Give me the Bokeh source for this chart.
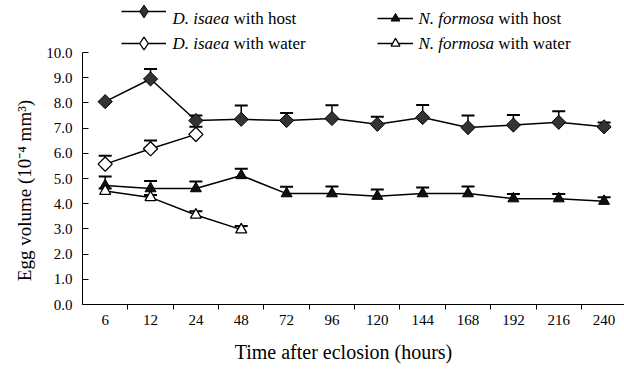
import math
from bokeh.plotting import figure
from bokeh.models import (ColumnDataSource, Range1d, FixedTicker, Whisker, TeeHead,
                          Legend, LegendItem, Label, PrintfTickFormatter)
from bokeh.embed import file_html
from bokeh.resources import INLINE

# ---- data ----
hours = ["6", "12", "24", "48", "72", "96", "120", "144", "168", "192", "216", "240"]
disaea_host = [8.05, 8.95, 7.30, 7.35, 7.30, 7.38, 7.15, 7.42, 7.02, 7.12, 7.23, 7.05]
disaea_host_se = [0.0, 0.40, 0.20, 0.55, 0.30, 0.53, 0.30, 0.50, 0.48, 0.40, 0.44, 0.17]
disaea_water = [5.57, 6.18, 6.75]
disaea_water_se = [0.33, 0.33, 0.30]
nformosa_host = [4.72, 4.60, 4.60, 5.12, 4.40, 4.40, 4.30, 4.40, 4.40, 4.20, 4.20, 4.10]
nformosa_host_se = [0.36, 0.30, 0.28, 0.27, 0.27, 0.28, 0.26, 0.24, 0.28, 0.18, 0.18, 0.16]
nformosa_water = [4.50, 4.25, 3.55, 2.97]
nformosa_water_se = [0.10, 0.10, 0.15, 0.15]
y_ticks = [0, 1, 2, 3, 4, 5, 6, 7, 8, 9, 10]

FONT = "Liberation Serif"
W, H = 624, 369
BOTTOM = 65           # space below the plotting frame
FRAME_H = H - BOTTOM  # frame spans the full height above the x axis
TOP_GAP = 52          # pixels between canvas top and the 10.0 tick


def make_src(vals, se):
    xs = list(range(len(vals)))
    return ColumnDataSource(dict(x=xs, y=vals, upper=[v + e for v, e in zip(vals, se)]))


src_dh = make_src(disaea_host, disaea_host_se)
src_dw = make_src(disaea_water, disaea_water_se)
src_nh = make_src(nformosa_host, nformosa_host_se)
src_nw = make_src(nformosa_water, nformosa_water_se)

y_top = 10 * FRAME_H / (FRAME_H - TOP_GAP)
p = figure(width=W, height=H, output_backend="svg", toolbar_location=None,
           x_range=Range1d(-0.5, 11.45), y_range=Range1d(0, y_top),
           min_border_left=82, min_border_right=0, min_border_top=0, min_border_bottom=BOTTOM)
p.outline_line_color = None
p.xgrid.visible = False
p.ygrid.visible = False
p.background_fill_color = "white"
p.border_fill_color = "white"
# a range that places everything off-screen, used only by the legend swatch renderers
p.extra_y_ranges = {"legend_only": Range1d(1000, 2000)}

# error bars (upper only), drawn beneath markers
for src in (src_dh, src_dw, src_nh, src_nw):
    w = Whisker(source=src, base="x", upper="upper", lower="y", dimension="height",
                line_color="black", line_width=1.5, lower_head=None,
                upper_head=TeeHead(size=13, line_color="black", line_width=2))
    w.level = "underlay"
    p.add_layout(w)

# lines
line_kw = dict(line_color="black", line_width=1.5)
l_dh = p.line("x", "y", source=src_dh, **line_kw)
l_dw = p.line("x", "y", source=src_dw, **line_kw)
l_nh = p.line("x", "y", source=src_nh, **line_kw)
l_nw = p.line("x", "y", source=src_nw, **line_kw)

# markers
m_dh = p.scatter("x", "y", source=src_dh, marker="square", angle=math.pi / 4, size=10,
                 fill_color="#333333", line_color="black", line_width=1)
m_dw = p.scatter("x", "y", source=src_dw, marker="square", angle=math.pi / 4, size=10,
                 fill_color="white", line_color="black", line_width=1.3)
m_nh = p.scatter("x", "y", source=src_nh, marker="triangle", size=11,
                 fill_color="#111111", line_color="black", line_width=1)
m_nw = p.scatter("x", "y", source=src_nw, marker="triangle", size=11,
                 fill_color="white", line_color="black", line_width=1.3)

# legend-only diamond swatches (the legend ignores marker rotation); mapped off-screen
k_dh = p.scatter("x", "y", source=src_dh, y_range_name="legend_only", marker="diamond",
                 fill_color="#333333", line_color="black", line_width=1)
k_dw = p.scatter("x", "y", source=src_dw, y_range_name="legend_only", marker="diamond",
                 fill_color="white", line_color="black", line_width=1.3)

# axes
xa = p.xaxis[0]
xa.ticker = FixedTicker(ticks=list(range(12)), minor_ticks=[i + 0.5 for i in range(11)])
xa.major_label_overrides = {i: h for i, h in enumerate(hours)}
xa.major_tick_line_color = None
xa.major_tick_out = 0
xa.major_tick_in = 0
xa.minor_tick_out = 5
xa.minor_tick_in = 0
xa.minor_tick_line_color = "black"
xa.axis_line_color = "black"
xa.major_label_standoff = 5
xa.major_label_text_font = FONT
xa.major_label_text_font_size = "15px"
xa.major_label_text_color = "black"
xa.axis_label = "Time after eclosion (hours)\u2003"
xa.axis_label_text_font = FONT
xa.axis_label_text_font_size = "20px"
xa.axis_label_text_font_style = "normal"
xa.axis_label_text_color = "black"
xa.axis_label_standoff = 13

ya = p.yaxis[0]
ya.bounds = (0, 10)
ya.ticker = FixedTicker(ticks=y_ticks, minor_ticks=[])
ya.formatter = PrintfTickFormatter(format="%.1f")
ya.major_tick_out = 0
ya.major_tick_in = 6
ya.major_tick_line_color = "black"
ya.minor_tick_line_color = None
ya.axis_line_color = "black"
ya.major_label_standoff = 10
ya.major_label_text_font = FONT
ya.major_label_text_font_size = "15px"
ya.major_label_text_color = "black"
ya.axis_label = "Egg volume (10\u207b\u2074 mm\u00b3)" + "\u2003" * 4
ya.axis_label_text_font = FONT
ya.axis_label_text_font_size = "19px"
ya.axis_label_text_font_style = "normal"
ya.axis_label_text_color = "black"
ya.axis_label_standoff = 8

# legends (glyphs via Bokeh Legend, mixed-style text via Labels)
leg1 = Legend(items=[LegendItem(label="D. isaea with host", renderers=[l_dh, k_dh]),
                     LegendItem(label="D. isaea with water", renderers=[l_dw, k_dw])],
              location=(39, FRAME_H - 59), glyph_width=45, glyph_height=32, spacing=-7,
              padding=0, margin=0, label_text_alpha=0, label_text_font_size="16px",
              background_fill_alpha=0, border_line_alpha=0)
leg2 = Legend(items=[LegendItem(label="N. formosa with host", renderers=[l_nh, m_nh]),
                     LegendItem(label="N. formosa with water", renderers=[l_nw, m_nw])],
              location=(295, FRAME_H - 54), glyph_width=36, glyph_height=22, spacing=3,
              padding=0, margin=0, label_text_alpha=0, label_text_font_size="16px",
              background_fill_alpha=0, border_line_alpha=0)
p.add_layout(leg1, "center")
p.add_layout(leg2, "center")

LEG_FS = 17
legend_text = [
    (172 - 82, 18, "D. isaea", "with host", 3.333),
    (172 - 82, 43, "D. isaea", "with water", 3.333),
    (418 - 82, 18, "N. formosa", "with host", 4.445),
    (418 - 82, 43, "N. formosa", "with water", 4.445),
]
for x0, yc, ital, reg, em in legend_text:
    ys = FRAME_H - yc
    p.add_layout(Label(x=x0, y=ys, x_units="screen", y_units="screen", text=ital,
                       text_font=FONT, text_font_size=f"{LEG_FS}px", text_font_style="italic",
                       text_baseline="middle", text_align="left", text_color="black"))
    p.add_layout(Label(x=x0 + (em + 0.25) * LEG_FS, y=ys, x_units="screen", y_units="screen",
                       text=reg, text_font=FONT, text_font_size=f"{LEG_FS}px",
                       text_font_style="normal", text_baseline="middle", text_align="left",
                       text_color="black"))

open("out.html", "w").write(file_html(p, INLINE))
